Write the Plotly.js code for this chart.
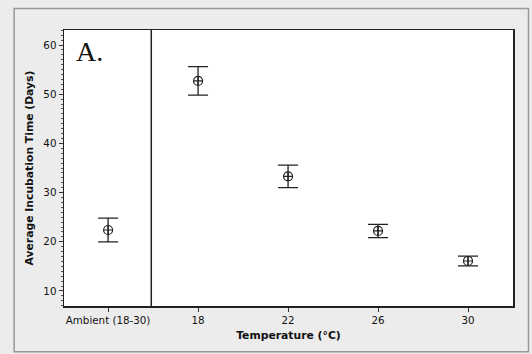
<!DOCTYPE html>
<html><head><meta charset="utf-8">
<script src="https://cdn.plot.ly/plotly-3.0.1.min.js"></script>
<style>html,body{margin:0;padding:0;background:#ececec;}#c{width:532px;height:354px;}</style>
</head><body><div id="c"></div>
<script>
const categories = ["Ambient (18-30)", "18", "22", "26", "30"];
const means = [22.4, 52.7, 33.3, 22.2, 16.1];
const errors = [2.4, 2.9, 2.3, 1.35, 1.0];
const yTicks = [10, 20, 30, 40, 50, 60];

const trace = {
  x: categories.map((c, i) => i),
  y: means,
  type: 'scatter',
  mode: 'markers',
  marker: {symbol: 'circle-cross-open', size: 9, color: '#222', line: {width: 1.2, color: '#222'}},
  error_y: {type: 'data', array: errors, visible: true, color: '#222', thickness: 1.3, width: 10},
  hoverinfo: 'skip'
};

const layout = {
  width: 532, height: 354,
  margin: {l: 64, r: 19, t: 30, b: 48},
  paper_bgcolor: '#ececec',
  plot_bgcolor: '#ffffff',
  showlegend: false,
  font: {family: 'DejaVu Sans', color: '#111'},
  xaxis: {
    range: [-0.49, 4.5],
    tickmode: 'array', tickvals: categories.map((c, i) => i), ticktext: categories,
    ticks: 'outside', ticklen: 4, tickcolor: '#333',
    showgrid: false, zeroline: false,
    showline: true, linecolor: '#222', linewidth: 1.5, mirror: true,
    tickfont: {size: 10.3, family: 'DejaVu Sans', color: '#111'},
    title: {text: '<b>Temperature (°C)</b>', font: {size: 10.8, family: 'DejaVu Sans', color: '#111'}, standoff: 6}
  },
  yaxis: {
    range: [6.95, 63.05],
    tickmode: 'array', tickvals: yTicks,
    ticks: 'outside', ticklen: 4, tickcolor: '#333',
    minor: {dtick: 1, ticks: 'outside', ticklen: 2, tickcolor: '#555'},
    showgrid: false, zeroline: false,
    showline: true, linecolor: '#222', linewidth: 1.5, mirror: true,
    tickfont: {size: 10.3, family: 'DejaVu Sans', color: '#111'},
    title: {text: '<b>Average Incubation Time (Days)</b>', font: {size: 10.8, family: 'DejaVu Sans', color: '#111'}, standoff: 7}
  },
  shapes: [
    {type: 'line', xref: 'x', yref: 'paper', x0: 0.48, x1: 0.48, y0: 0, y1: 1, line: {color: '#222', width: 1.5}},
    {type: 'rect', xref: 'paper', yref: 'paper', x0: -0.111, x1: 1.0345, y0: -0.1655, y1: 1.0781, line: {color: '#999', width: 1.5}}
  ],
  annotations: [
    {text: 'A.', xref: 'paper', yref: 'paper', x: 0.022, y: 0.985, xanchor: 'left', yanchor: 'top', showarrow: false,
     font: {family: 'Liberation Serif', size: 28, color: '#111'}}
  ]
};

Plotly.newPlot('c', [trace], layout, {displayModeBar: false, staticPlot: true});
</script>
</body></html>
